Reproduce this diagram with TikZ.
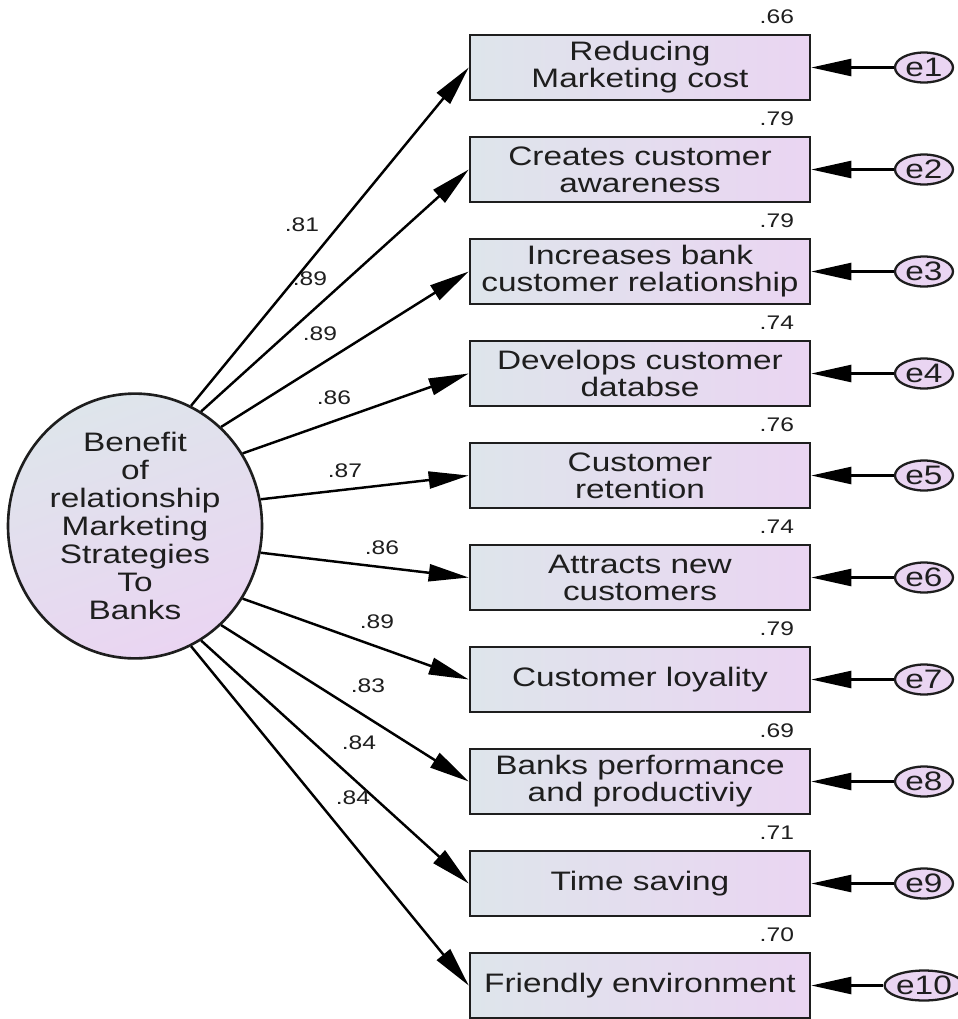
\documentclass[tikz,border=0pt]{standalone}
\usepackage{fontspec}
\setmainfont{Liberation Sans}[FakeStretch=1.25]
\usetikzlibrary{arrows.meta,shapes.geometric}
\definecolor{shadeA}{RGB}{222,229,235}
\definecolor{shadeB}{RGB}{234,213,242}
\definecolor{inkc}{RGB}{30,30,30}
\tikzset{
  path/.style={line width=1.4pt, draw=black, -{Triangle[length=0.8cm,width=0.34cm]}},
  obs/.style={draw=inkc, line width=1.5pt, left color=shadeA, right color=shadeB,
    minimum width=6.8cm, minimum height=1.3cm, inner sep=0pt, align=center,
    text=inkc, font=\fontsize{15.2}{15.4}\selectfont},
  err/.style={ellipse, draw=inkc, line width=1.3pt, fill=shadeB, minimum width=1.16cm,
    minimum height=0.6cm, inner sep=0pt, text=inkc, font=\fontsize{15.2}{15.4}\selectfont},
  latent/.style={ellipse, draw=inkc, line width=1.5pt, top color=shadeA, bottom color=shadeB,
    shading angle=20, minimum width=5.08cm, minimum height=4.8cm, inner sep=0pt,
    align=center, text=inkc, font=\fontsize{15.2}{15.9}\selectfont},
  coef/.style={inner sep=0pt, text=inkc, font=\fontsize{11.2}{12}\selectfont},
}
\begin{document}
\begin{tikzpicture}[x=0.02cm,y=-0.02cm]
\useasboundingbox (0,0) rectangle (958,1019);

% latent factor
\node[latent] (L) at (135,526) {Benefit\\of\\relationship\\Marketing\\Strategies\\To\\Banks};

% indicators
\node[obs] (b1)  at (640,67.5)  {Reducing\\Marketing cost};
\node[obs] (b2)  at (640,169.5) {Creates customer\\awareness};
\node[obs] (b3)  at (640,271.5) {Increases bank\\customer relationship};
\node[obs] (b4)  at (640,373.5) {Develops customer\\databse};
\node[obs] (b5)  at (640,475.5) {Customer\\retention};
\node[obs] (b6)  at (640,577.5) {Attracts new\\customers};
\node[obs] (b7)  at (640,679.5) {Customer loyality};
\node[obs] (b8)  at (640,781.5) {Banks performance\\and productiviy};
\node[obs] (b9)  at (640,883.5) {Time saving};
\node[obs] (b10) at (640,985.5) {Friendly environment};

% error terms
\foreach \i/\y in {1/67.5,2/169.5,3/271.5,4/373.5,5/475.5,6/577.5,7/679.5,8/781.5,9/883.5,10/985.5}{
  \node[err] (e\i) at (924,\y) {e\i};
  \draw[path] (e\i.west) -- (b\i.east);
}

% squared multiple correlations
\foreach \i/\v in {1/.66,2/.79,3/.79,4/.74,5/.76,6/.74,7/.79,8/.69,9/.71,10/.70}{
  \node[coef, anchor=east] (r\i) at ([xshift=-0.34cm,yshift=0.34cm]b\i.north east) {\v};
}

% factor loadings
\draw[path] (L.65.7)  -- (b1.west);
\draw[path] (L.60)    -- (b2.west);
\draw[path] (L.49)    -- (b3.west);
\draw[path] (L.34)    -- (b4.west);
\draw[path] (L.12.5)  -- (b5.west);
\draw[path] (L.-12.5) -- (b6.west);
\draw[path] (L.-34)   -- (b7.west);
\draw[path] (L.-49)   -- (b8.west);
\draw[path] (L.-60)   -- (b9.west);
\draw[path] (L.-65.7) -- (b10.west);

\node[coef] (l1)  at (302,225) {.81};
\node[coef] (l2)  at (310,279) {.89};
\node[coef] (l3)  at (320,334) {.89};
\node[coef] (l4)  at (334,398) {.86};
\node[coef] (l5)  at (345,471) {.87};
\node[coef] (l6)  at (382,548) {.86};
\node[coef] (l7)  at (377,622) {.89};
\node[coef] (l8)  at (368,686) {.83};
\node[coef] (l9)  at (359,743) {.84};
\node[coef] (l10) at (353,798) {.84};
\end{tikzpicture}
\end{document}
